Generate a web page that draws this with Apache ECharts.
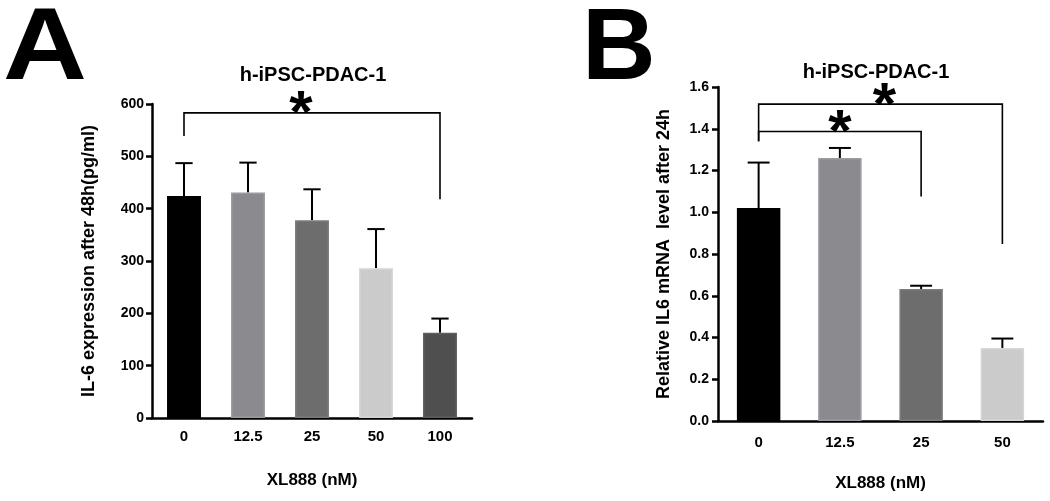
<!DOCTYPE html>
<html>
<head>
<meta charset="utf-8">
<script src="https://cdn.jsdelivr.net/npm/echarts@6/dist/echarts.min.js"></script>
<style>
html,body{margin:0;padding:0;background:#fff;}
#chart{width:1050px;height:501px;}
</style>
</head>
<body>
<div id="chart"></div>
<script>
// ---- data ----
const catsA = ['0', '12.5', '25', '50', '100'];
const meanA = [424, 431, 378, 286, 163];
const upperA = [487, 488, 437, 361, 190];
const colorsA = ['#000000', '#8b8b8f', '#6d6d6d', '#cbcbcb', '#4f4f4f'];
const bordersA = ['#000000', '#9c9ca0', '#7c7c7c', '#d6d6d6', '#5e5e5e'];
const ticksA = [0, 600, 100];
// bracket: [fromCat, toCat, yLine, leftLegBottom, rightLegBottom, starFraction]
const bracketsA = [[0, 4, 583, 539, 418, 0.457]];

const catsB = ['0', '12.5', '25', '50'];
const meanB = [1.02, 1.26, 0.632, 0.35];
const upperB = [1.238, 1.308, 0.648, 0.395];
const colorsB = ['#000000', '#8b8b8f', '#6d6d6d', '#cbcbcb'];
const bordersB = ['#000000', '#9c9ca0', '#7c7c7c', '#d6d6d6'];
const ticksB = [0, 1.6, 0.2];
const bracketsB = [[0, 3, 1.518, 1.34, 0.848, 0.516], [0, 2, 1.387, 1.34, 1.075, 0.5]];

const titleText = 'h-iPSC-PDAC-1';
const xTitle = 'XL888 (nM)';
const yTitleA = 'IL-6 expression after 48h(pg/ml)';
const yTitleB = 'Relative IL6 mRNA  level after 24h';

const FONT = '"Liberation Sans", Arial, Helvetica, sans-serif';

function errRender(params, api) {
  const i = api.value(0);
  const p0 = api.coord([i, api.value(1)]);
  const p1 = api.coord([i, api.value(2)]);
  const hw = api.size([1, 0])[0] * 0.135;
  return {
    type: 'group',
    children: [
      {type: 'line', shape: {x1: p0[0], y1: p0[1], x2: p1[0], y2: p1[1]}, style: {stroke: '#000', lineWidth: 2}},
      {type: 'line', shape: {x1: p1[0] - hw, y1: p1[1], x2: p1[0] + hw, y2: p1[1]}, style: {stroke: '#000', lineWidth: 2}}
    ]
  };
}

function bracketRender(params, api) {
  const a = api.value(0), b = api.value(1), y = api.value(2);
  const pl = api.coord([a, y]);
  const pr = api.coord([b, y]);
  const plb = api.coord([a, api.value(3)]);
  const prb = api.coord([b, api.value(4)]);
  const f = api.value(5);
  const sx = pl[0] + (pr[0] - pl[0]) * f;
  return {
    type: 'group',
    children: [
      {type: 'polyline', shape: {points: [[plb[0], plb[1]], [pl[0], pl[1]], [pr[0], pr[1]], [prb[0], prb[1]]]},
        style: {stroke: '#000', lineWidth: 1.6, fill: null}},
      {type: 'text', style: {text: '*', x: sx, y: pl[1] + 3, align: 'center', verticalAlign: 'middle',
        fontSize: 60, fontWeight: 'bold', fontFamily: FONT, fill: '#000'}}
    ]
  };
}

function axisSet(gridIndex, cats, ticks, nameY, nameGapY, labelMarginY, labelMarginX, nameGapX, fmt) {
  return {
    x: {
      type: 'category', gridIndex: gridIndex, data: cats,
      axisLine: {lineStyle: {color: '#000', width: 2.5}},
      axisTick: {alignWithLabel: true, length: 6, lineStyle: {color: '#000', width: 2.5}},
      axisLabel: {color: '#000', fontSize: 15, fontWeight: 'bold', fontFamily: FONT, margin: labelMarginX},
      name: xTitle, nameLocation: 'middle', nameGap: nameGapX,
      nameTextStyle: {color: '#000', fontSize: 17, fontWeight: 'bold', fontFamily: FONT}
    },
    y: {
      type: 'value', gridIndex: gridIndex, min: ticks[0], max: ticks[1], interval: ticks[2],
      axisLine: {show: true, lineStyle: {color: '#000', width: 2.5}},
      axisTick: {show: true, length: 6, lineStyle: {color: '#000', width: 2.5}},
      splitLine: {show: false},
      axisLabel: {color: '#000', fontSize: 14, fontWeight: 'bold', fontFamily: FONT, margin: labelMarginY, formatter: fmt},
      name: nameY, nameLocation: 'middle', nameRotate: 90, nameGap: nameGapY,
      nameTextStyle: {color: '#000', fontSize: 18, fontWeight: 'bold', fontFamily: FONT}
    }
  };
}

const axA = axisSet(0, catsA, ticksA, yTitleA, 54, 8, 11, 54, v => String(v));
const axB = axisSet(1, catsB, ticksB, yTitleB, 45, 9, 14, 54, v => v.toFixed(1));

const option = {
  animation: false,
  backgroundColor: '#fff',
  grid: [
    {left: 152, top: 104, width: 320, height: 314},
    {left: 718, top: 87, width: 325, height: 334}
  ],
  xAxis: [axA.x, axB.x],
  yAxis: [axA.y, axB.y],
  graphic: [
    {type: 'text', left: 3, top: 0, scaleX: 1.14, style: {text: 'A', fontSize: 102, fontWeight: 900, fontFamily: FONT, fill: '#000'}},
    {type: 'text', left: 582, top: 0, style: {text: 'B', fontSize: 102, fontWeight: 900, fontFamily: FONT, fill: '#000'}},
    {type: 'text', x: 313, y: 75, style: {text: titleText, fontSize: 20, fontWeight: 'bold', fontFamily: FONT, fill: '#000', align: 'center', verticalAlign: 'middle'}},
    {type: 'text', x: 876, y: 72, style: {text: titleText, fontSize: 20, fontWeight: 'bold', fontFamily: FONT, fill: '#000', align: 'center', verticalAlign: 'middle'}}
  ],
  series: [
    {
      type: 'bar', xAxisIndex: 0, yAxisIndex: 0, barWidth: '53%',
      data: meanA.map((v, i) => ({value: v, itemStyle: {color: colorsA[i], borderColor: bordersA[i], borderWidth: 1.5}})),
      z: 2
    },
    {
      type: 'custom', xAxisIndex: 0, yAxisIndex: 0, clip: false, z: 1,
      data: meanA.map((v, i) => [i, v, upperA[i]]),
      renderItem: errRender
    },
    {
      type: 'custom', xAxisIndex: 0, yAxisIndex: 0, clip: false, z: 3,
      data: bracketsA,
      renderItem: bracketRender
    },
    {
      type: 'bar', xAxisIndex: 1, yAxisIndex: 1, barWidth: '53.5%',
      data: meanB.map((v, i) => ({value: v, itemStyle: {color: colorsB[i], borderColor: bordersB[i], borderWidth: 1.5}})),
      z: 2
    },
    {
      type: 'custom', xAxisIndex: 1, yAxisIndex: 1, clip: false, z: 1,
      data: meanB.map((v, i) => [i, v, upperB[i]]),
      renderItem: errRender
    },
    {
      type: 'custom', xAxisIndex: 1, yAxisIndex: 1, clip: false, z: 3,
      data: bracketsB,
      renderItem: bracketRender
    }
  ]
};

const chart = echarts.init(document.getElementById('chart'), null, {renderer: 'canvas'});
chart.setOption(option);
</script>
</body>
</html>
